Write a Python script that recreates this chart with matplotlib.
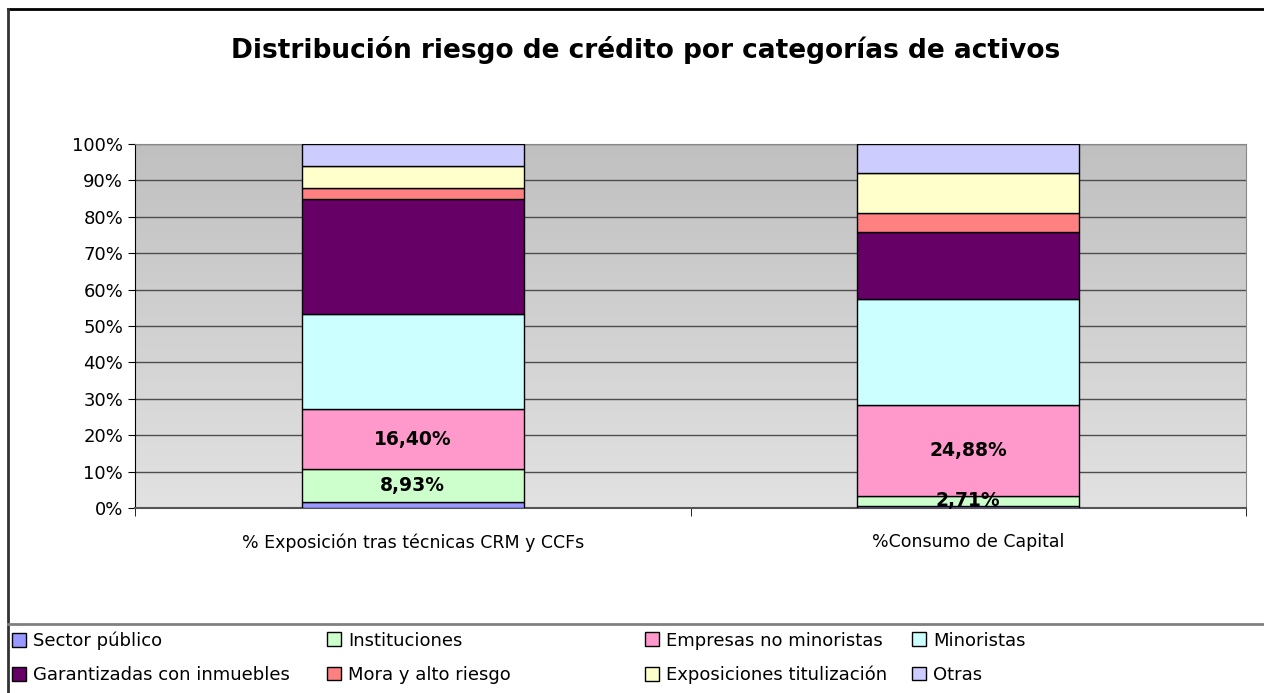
import numpy as np
import matplotlib
matplotlib.use('Agg')
import matplotlib.pyplot as plt
from matplotlib.patches import Patch
from matplotlib.lines import Line2D

categories = ['% Exposición tras técnicas CRM y CCFs', '%Consumo de Capital']
series_names = ['Sector público', 'Instituciones', 'Empresas no minoristas', 'Minoristas',
                'Garantizadas con inmuebles', 'Mora y alto riesgo', 'Exposiciones titulización', 'Otras']
sector_publico = [1.77, 0.60]
instituciones = [8.93, 2.71]
empresas = [16.40, 24.88]
minoristas = [26.20, 29.30]
garantizadas = [31.50, 18.30]
mora = [3.00, 5.20]
titulizacion = [6.20, 11.10]
otras = [6.00, 7.91]
labelled = ['Instituciones', 'Empresas no minoristas']

values = [sector_publico, instituciones, empresas, minoristas,
          garantizadas, mora, titulizacion, otras]
colors = ['#9999ff', '#ccffcc', '#ff99cc', '#ccffff',
          '#660066', '#ff8080', '#ffffcc', '#ccccff']

fig = plt.figure(figsize=(12.64, 6.93), dpi=100)
ax = fig.add_axes([135 / 1264, 1 - 508 / 693, 1111 / 1264, 364 / 693])

# gradient background
grad = np.linspace(0, 1, 256).reshape(-1, 1)
ax.imshow(grad, extent=[0, 1, 0, 1], transform=ax.transAxes, aspect='auto',
          cmap=matplotlib.colors.LinearSegmentedColormap.from_list('bg', ['#c0c0c0', '#e2e2e2']),
          zorder=0)

x = np.arange(len(categories))
bottom = np.zeros(len(categories))
for name, vals, col in zip(series_names, values, colors):
    vals = np.array(vals)
    ax.bar(x, vals, 0.4, bottom=bottom, color=col, edgecolor='black', linewidth=1, zorder=3)
    if name in labelled:
        for xi, b, v in zip(x, bottom, vals):
            ax.text(xi, b + v / 2, f'{v:.2f}%'.replace('.', ','), ha='center', va='center',
                    fontsize=13.5, fontweight='bold', zorder=4)
    bottom += vals

ax.set_xlim(-0.5, 1.5)
ax.set_ylim(0, 100)
ax.set_yticks(np.arange(0, 101, 10))
ax.set_yticklabels([f'{v}%' for v in range(0, 101, 10)], fontsize=13)
ax.yaxis.grid(True, color='#4d4d4d', linewidth=1, zorder=1)
ax.set_axisbelow(True)
ax.set_xticks(x)
ax.set_xticklabels(categories, fontsize=12.5)
ax.tick_params(axis='x', length=0, pad=18)
ax.set_xticks([-0.5, 0.5, 1.5], minor=True)
ax.tick_params(axis='x', which='minor', length=6, color='black')
ax.tick_params(axis='y', length=5, color='black')
ax.spines['left'].set_color('black')
ax.spines['bottom'].set_color('#555555')
ax.spines['bottom'].set_linewidth(1.5)
ax.spines['right'].set_color('#888888')
ax.spines['top'].set_color('#888888')

fig.text(646 / 1264, 1 - 50 / 693, 'Distribución riesgo de crédito por categorías de activos',
         ha='center', va='center', fontsize=19, fontweight='bold')

# frame and legend separator
fig.add_artist(Line2D([8 / 1264, 1.0], [1 - 9 / 693, 1 - 9 / 693], color='black', linewidth=2))
fig.add_artist(Line2D([8 / 1264, 8 / 1264], [0, 1 - 9 / 693], color='#333333', linewidth=2))
fig.add_artist(Line2D([8 / 1264, 1.0], [1 - 624 / 693, 1 - 624 / 693], color='#808080', linewidth=2))

# legend: 4 columns, 2 rows
col_x = [8, 323, 641, 908]
for c in range(4):
    idx = [c, c + 4]
    handles = [Patch(facecolor=colors[i], edgecolor='black', linewidth=1) for i in idx]
    fig.legend(handles, [series_names[i] for i in idx], loc='upper left',
               bbox_to_anchor=(col_x[c] / 1264, 1 - 628 / 693), frameon=False,
               fontsize=13, handlelength=0.8, handleheight=0.8, handletextpad=0.4,
               labelspacing=0.9, borderpad=0.2, borderaxespad=0)

fig.savefig('out.png', dpi=100)
